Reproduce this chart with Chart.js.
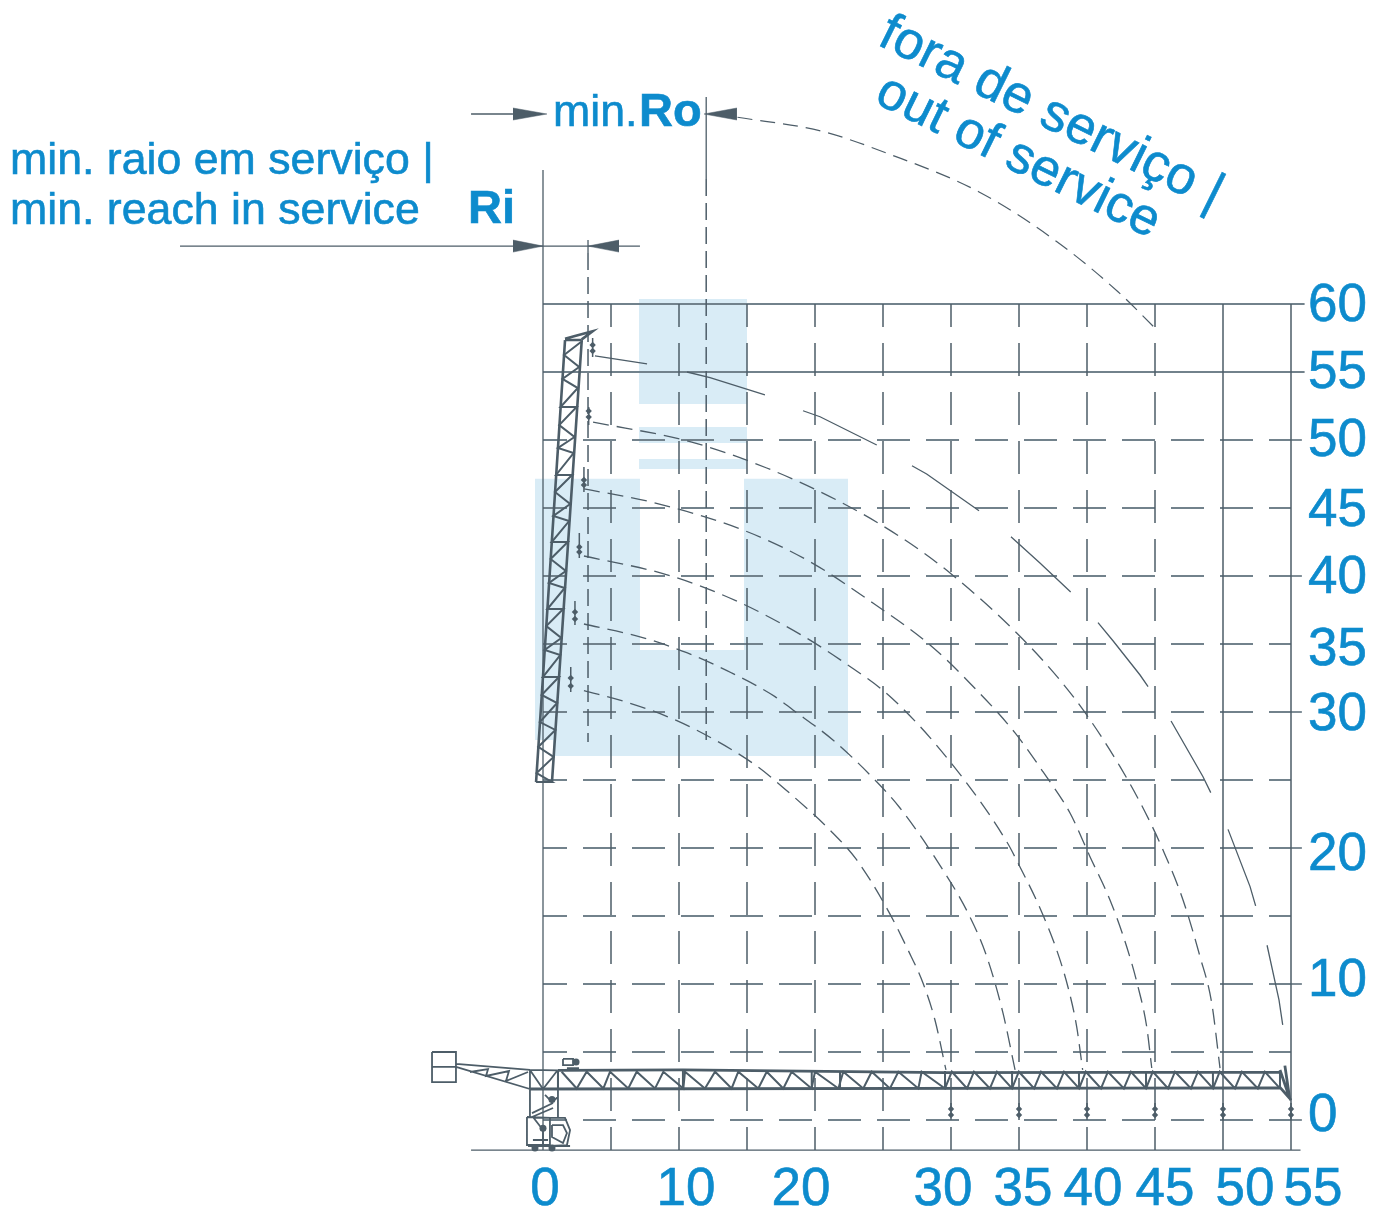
<!DOCTYPE html>
<html>
<head>
<meta charset="utf-8">
<title>Raio em serviço</title>
<script src="https://cdn.jsdelivr.net/npm/chart.js@4"></script>
<style>
  html, body { margin: 0; padding: 0; background: #fff; }
  canvas { display: block; }
</style>
</head>
<body>
<canvas id="chart" width="1390" height="1212"></canvas>
<script>
// tick labels
const xTickValues = [0, 10, 20, 30, 35, 40, 45, 50, 55];
const yTickValues = [0, 10, 20, 30, 35, 40, 45, 50, 55, 60];

// grid
const gridX = [5, 10, 15, 20, 25, 30, 35, 40, 45];
const gridXSolid = [50, 55];
const gridY = [0, 5, 10, 15, 20, 25, 30, 35, 40, 45, 50];
const gridYSolid = [55, 60];
const tickStubY = [0, 10, 20, 30, 40, 50];

// hook paths, one per jib length (30 to 50 m)
const arc30X = [3.01, 6.03, 9.39, 12.65, 15.71, 18.38, 21.10, 23.07, 25.27, 26.84, 27.94, 28.82, 29.63];
const arc30Y = [31.57, 30.76, 29.56, 27.94, 26.03, 23.82, 21.32, 19.12, 15.59, 12.5, 10.07, 7.35, 3.68];
const arc35X = [3.01, 7.26, 10.57, 13.88, 17.06, 18.38, 21.32, 24.41, 26.25, 29.41, 31.25, 32.63, 33.82, 34.71];
const arc35Y = [36.47, 35.49, 34.36, 32.87, 31.13, 30.15, 27.94, 25.0, 22.94, 18.38, 15.22, 12.01, 7.87, 3.68];
const arc40X = [3.01, 9.19, 14.34, 19.12, 22.21, 25.64, 29.93, 34.10, 35.0, 36.54, 37.77, 38.60, 39.24, 39.68];
const arc40Y = [41.47, 40.07, 38.11, 35.59, 33.60, 31.03, 26.35, 20.46, 18.75, 15.59, 12.5, 9.78, 6.86, 3.68];
const arc45X = [3.01, 7.87, 14.71, 19.63, 24.26, 28.46, 31.52, 34.71, 36.76, 38.75, 40.22, 41.69, 42.92, 43.75, 44.39, 44.76];
const arc45Y = [46.40, 45.46, 43.38, 41.05, 38.01, 34.93, 31.99, 28.46, 25.61, 22.57, 19.36, 16.18, 12.74, 9.80, 6.86, 3.82];
const arc50X = [3.68, 10.81, 16.45, 21.84, 26.25, 29.93, 34.83, 38.01, 39.98, 42.43, 44.26, 45.59, 47.06, 48.31, 49.17, 49.78];
const arc50Y = [51.32, 49.88, 47.94, 45.46, 42.89, 40.22, 35.81, 32.35, 29.78, 25.98, 22.67, 19.85, 16.18, 12.01, 8.60, 3.82];
const arcOutX = [14.30, 20.44, 25.44, 32.03, 37.79, 42.28, 44.99];
const arcOutY = [73.73, 72.72, 71.03, 68.26, 64.58, 60.90, 58.24];

// 55 m path is broken into solid pieces
const arc55Pieces = [
  [[3.82, 56.18], [7.65, 55.59]],
  [[10.59, 55.0], [12.28, 54.58], [16.32, 53.31]],
  [[19.12, 52.15], [20.37, 51.71], [24.54, 49.63]],
  [[27.13, 48.11], [28.21, 47.5], [32.06, 44.80]],
  [[34.41, 42.89], [36.54, 40.96], [38.80, 38.82]],
  [[40.81, 36.57], [41.91, 35.24], [43.90, 32.72], [44.49, 31.86]],
  [[46.18, 29.34], [48.53, 25.24], [49.10, 24.07]],
  [[50.37, 21.37], [51.99, 17.16], [52.40, 15.74]],
  [[53.24, 12.85], [54.12, 8.82], [54.39, 6.99]]
];

// hooks on the raised boom
const boomHookX = [3.65, 3.36, 3.01, 2.67, 2.35, 2.04];
const boomHookTop = [57.5, 52.43, 48.01, 43.16, 38.16, 33.31];
const boomHookBottom = [56.10, 51.10, 46.18, 41.32, 36.40, 31.47];
const boomHookMarkA = [56.99, 52.13, 47.06, 42.13, 37.35, 32.5];
const boomHookMarkB = [56.54, 51.69, 46.69, 41.76, 36.84, 31.91];
// hooks on the horizontal jib
const jibHookX = [30, 35, 40, 45, 50, 55];

// raised boom lacing
const boomLacing = [
  [2.79, 57.21], [1.55, 56.25], [2.66, 55.37], [1.43, 54.49], [2.56, 53.82], [1.29, 52.43], [2.47, 52.43],
  [1.19, 51.10], [2.32, 50.22], [1.10, 49.41], [2.25, 49.04], [0.96, 47.43], [2.14, 47.43],
  [0.88, 46.18], [2.0, 45.29], [0.76, 44.41], [1.92, 44.04], [0.64, 42.50], [1.82, 42.50],
  [0.56, 41.25], [1.68, 40.37], [0.44, 39.49], [1.60, 39.12], [0.32, 37.57], [1.49, 37.57],
  [0.24, 36.32], [1.35, 35.44], [0.12, 34.56], [1.27, 34.19], [-0.01, 32.57], [1.17, 32.57],
  [-0.10, 31.25], [1.04, 30.66], [-0.23, 29.26], [0.91, 28.68], [-0.35, 27.43], [0.78, 26.69],
  [-0.47, 25.51], [0.66, 24.85], [-0.51, 24.85]
];
const boomChords = [
  [[-0.51, 24.85], [1.62, 57.35]],
  [[0.66, 24.85], [2.85, 57.35]],
  [[1.62, 57.35], [2.85, 57.35]],
  [[1.62, 57.45], [2.35, 57.65], [3.65, 58.0], [2.85, 57.4]]
];

// horizontal jib lacing, top and bottom nodes
const jibTopX = [1.37, 3.21, 4.93, 6.89, 8.85, 10.44, 12.65, 14.36, 16.45, 18.28, 20.0, 22.08, 24.17, 26.13, 27.84,
  30.06, 31.69, 33.38, 34.99, 36.62, 38.31, 39.91, 41.54, 43.23, 44.84, 46.47, 48.16, 49.76, 51.39, 53.08];
const jibBottomX = [2.48, 4.44, 6.27, 8.24, 10.32, 11.91, 13.87, 15.83, 17.67, 19.75, 21.72, 23.55, 25.51, 27.6, 29.56,
  31.18, 32.86, 34.49, 36.11, 37.79, 39.42, 41.03, 42.71, 44.34, 45.96, 47.64, 49.27, 50.88, 52.56, 54.19];
const jibPostX = [1.10, 10.29, 19.76, 21.84, 29.56, 34.49, 39.41, 44.34, 49.26, 54.19];
const jibChords = [
  [[1.10, 3.65], [10.29, 3.68], [29.56, 3.49], [54.19, 3.52]],
  [[-0.96, 2.28], [54.19, 2.36]],
  [[54.19, 3.68], [54.9, 1.6], [55, 1.45]],
  [[54.19, 2.4], [54.9, 1.6]],
  [[54.55, 4.0], [54.9, 1.6]]
];

// counter jib, tower, cab and hoist
const craneParts = [
  [[-8.16, 5.0], [-6.40, 5.0], [-6.40, 2.79], [-8.16, 2.79], [-8.16, 5.0]],
  [[-8.16, 3.90], [-6.40, 3.90]],
  [[-6.40, 4.12], [-0.96, 3.68], [1.10, 3.65]],
  [[-6.40, 3.90], [-0.96, 2.28]],
  [[-5.37, 3.53], [-4.04, 3.75], [-4.19, 3.24], [-2.5, 3.6], [-2.72, 2.87], [-1.10, 3.53]],
  [[-0.96, 3.68], [0, 2.28], [1.03, 3.6]],
  [[-0.96, 3.68], [-0.96, 0.22]],
  [[1.10, 3.6], [1.10, 0.22]],
  [[-1.18, 0.22], [-1.18, -1.84], [0.51, -1.84], [0.51, 0.15], [-1.18, 0.22]],
  [[0.51, 0.15], [1.62, 0.15], [1.99, -0.74], [1.76, -1.84], [0.51, -1.91]],
  [[0.66, -0.37], [1.47, -0.37], [1.76, -0.96], [1.47, -1.69], [0.66, -1.25], [0.66, -0.37]],
  [[-1.10, -1.91], [1.99, -1.91]],
  [[-0.74, 0.22], [0, -0.74]],
  [[-0.74, -1.47], [0.37, -1.47]],
  [[0, -0.51], [0, -1.99]],
  [[-0.81, 0.51], [0.74, 1.25]],
  [[0.15, 1.84], [0.66, 1.32], [1.10, 1.69]],
  [[0.74, 0.88], [-0.81, 0.22]],
  [[1.47, 4.49], [2.21, 4.49], [2.21, 4.04], [1.47, 4.04], [1.47, 4.49]],
  [[1.76, 3.82], [2.65, 3.82]]
];
const craneMarks = [[-0.59, -2.06], [0.66, -2.06], [2.43, 4.26], [0, -0.6], [0.66, 1.5]];

// dimension lines
const leaderLines = [
  [[-5.29, 73.97], [-2.21, 73.97]],
  [[-26.69, 64.26], [7.13, 64.26]],
  [[0, 69.85], [0, -2.21]],
  [[12, 75.22], [12, 69.19]],
  [[3.31, 64.71], [3.31, 63.75]],
  [[-5.29, -2.21], [55.7, -2.21]]
];
const dashedLeaders = [
  [[12, 69.19], [12, 27.94]],
  [[3.31, 63.75], [3.31, 27.79]]
];
// tip, base, centre height
const arrowTipX = [0.29, 11.84, 0, 3.31];
const arrowBaseX = [-2.21, 14.26, -2.21, 5.59];
const arrowY = [73.97, 73.97, 64.26, 64.26];

// logo behind the plot: left, right, bottom, top
const logoLeft = [7.06, 7.06, 7.06, -0.59, 14.78, 0.74];
const logoRight = [15.0, 15.0, 15.0, 7.13, 22.43, 22.43];
const logoBottom = [52.65, 49.78, 47.87, 27.94, 26.77, 26.77];
const logoTop = [60.37, 50.96, 48.60, 47.15, 47.15, 34.56];

const INK = '#4d5d68';
const GRID_INK = '#72828c';
const BLUE = '#0d8bcd';
const LOGO_BLUE = '#d9ecf6';
const UNIT = 13.6; // px per metre in the sheet

const xy = (p) => ({ x: p[0], y: p[1] });
const zip = (xs, ys) => xs.map((x, i) => ({ x, y: ys[i] }));

function joinPieces(pieces) {
  const out = [];
  pieces.forEach((piece) => {
    piece.forEach((p) => out.push(xy(p)));
    out.push({ x: NaN, y: NaN });
  });
  return out;
}

function line(data, extra) {
  return Object.assign({
    data,
    showLine: true,
    borderColor: INK,
    borderWidth: 1.2,
    pointRadius: 0,
    fill: false,
    spanGaps: false,
    clip: false
  }, extra);
}

// datasets are painted last to first, so the crane comes first here
const datasets = [];

// crane
datasets.push(line(boomLacing.map(xy), { borderWidth: 2 }));
datasets.push(line(joinPieces(boomChords), { borderWidth: 2.6 }));
const jibLacing = [];
jibTopX.forEach((x, i) => {
  jibLacing.push({ x, y: 3.55 });
  jibLacing.push({ x: jibBottomX[i], y: 2.32 });
});
datasets.push(line(jibLacing, { borderWidth: 2 }));
datasets.push(line(joinPieces(jibPostX.map((x) => [[x, 3.6], [x, 2.32]])), { borderWidth: 2 }));
datasets.push(line(joinPieces(jibChords), { borderWidth: 2.8 }));
datasets.push(line(joinPieces(craneParts), { borderWidth: 1.8 }));
datasets.push(line(craneMarks.map(xy), { showLine: false, pointRadius: 3.5, pointBackgroundColor: INK, pointBorderWidth: 0 }));

// hooks
const hookStems = boomHookX.map((x, i) => [[x, boomHookTop[i]], [x, boomHookBottom[i]]])
  .concat(jibHookX.map((x) => [[x, 1.25], [x, 0]]));
datasets.push(line(joinPieces(hookStems), { borderWidth: 1.5 }));
const hookMarks = zip(boomHookX, boomHookMarkA).concat(zip(boomHookX, boomHookMarkB))
  .concat(jibHookX.map((x) => ({ x, y: 0.81 }))).concat(jibHookX.map((x) => ({ x, y: 0.37 })));
datasets.push(line(hookMarks, { showLine: false, pointRadius: 3.2, pointStyle: 'rectRot', pointBackgroundColor: INK, pointBorderWidth: 0 }));

// arrow heads, each is two filled halves meeting on the centre line
arrowTipX.forEach((tip, i) => {
  const half = 6 / UNIT;
  const y = arrowY[i];
  [half, -half].forEach((h) => {
    datasets.push(line([{ x: arrowBaseX[i], y: y + h }, { x: tip, y }], {
      borderWidth: 0.5,
      fill: { value: y },
      backgroundColor: INK
    }));
  });
});

// dimension lines
datasets.push(line(joinPieces(leaderLines), { borderWidth: 1.3 }));
datasets.push(line(joinPieces(dashedLeaders), { borderWidth: 1.5, borderDash: [17, 7] }));

// hook paths
[[arc30X, arc30Y], [arc35X, arc35Y], [arc40X, arc40Y], [arc45X, arc45Y], [arc50X, arc50Y]].forEach((arc) => {
  datasets.push(line(zip(arc[0], arc[1]), { borderWidth: 1.3, borderDash: [16, 8], cubicInterpolationMode: 'monotone' }));
});
datasets.push(line(zip(arcOutX, arcOutY), { borderWidth: 1.2, borderDash: [15, 8], cubicInterpolationMode: 'monotone' }));
datasets.push(line(joinPieces(arc55Pieces), { borderWidth: 1.3 }));

// grid
gridX.forEach((x) => {
  datasets.push(line([{ x, y: 60 }, { x, y: -2.21 }], { borderWidth: 1.5, borderDash: [33, 16], borderDashOffset: 10 }));
});
gridXSolid.forEach((x) => {
  datasets.push(line([{ x, y: 60 }, { x, y: -2.21 }], { borderWidth: 1.5 }));
});
gridY.forEach((y) => {
  datasets.push(line([{ x: 0, y }, { x: 55, y }], { borderColor: GRID_INK, borderWidth: 1.8, borderDash: [33, 16], borderDashOffset: 9 }));
});
gridYSolid.forEach((y) => {
  datasets.push(line([{ x: 0, y }, { x: 56, y }], { borderColor: GRID_INK, borderWidth: 1.8 }));
});
tickStubY.forEach((y) => {
  datasets.push(line([{ x: 55, y }, { x: 55.8, y }], { borderColor: GRID_INK, borderWidth: 1.8 }));
});

// logo
logoLeft.forEach((x0, i) => {
  datasets.push(line([{ x: x0, y: logoTop[i] }, { x: logoRight[i], y: logoTop[i] }], {
    borderWidth: 0,
    fill: { value: logoBottom[i] },
    backgroundColor: LOGO_BLUE
  }));
});

// nudges of the tick labels against their ticks, as on the original sheet
const xLabelNudge = { 0: 2, 10: 7, 20: -14, 30: -8, 35: 4, 40: 6, 45: 10, 50: 22, 55: 22 };
const yLabelNudge = { 0: -4, 10: -3, 20: 7, 30: 3, 35: 6, 40: 2, 45: 3, 50: 1, 55: 1, 60: 2 };

const sheetText = {
  id: 'sheetText',
  afterDraw(chart) {
    const ctx = chart.ctx;
    const sx = chart.scales.x;
    const sy = chart.scales.y;
    const put = (text, x, y) => {
      ctx.fillText(text, x, y);
      ctx.strokeText(text, x, y);
    };
    ctx.save();
    ctx.fillStyle = BLUE;
    ctx.strokeStyle = BLUE;
    ctx.lineWidth = 0.6;
    ctx.textBaseline = 'alphabetic';

    ctx.font = '53px "Liberation Sans"';
    ctx.textAlign = 'center';
    xTickValues.forEach((v) => {
      put(String(v), sx.getPixelForValue(v) + xLabelNudge[v], 1205);
    });
    ctx.textBaseline = 'middle';
    ctx.textAlign = 'left';
    yTickValues.forEach((v) => {
      put(String(v), 1308, sy.getPixelForValue(v) + yLabelNudge[v]);
    });
    ctx.textBaseline = 'alphabetic';

    ctx.font = '44.7px "Liberation Sans"';
    put('min. raio em serviço |', 10, 174);
    put('min. reach in service', 10, 224);
    put('min.', 553, 126);

    ctx.font = 'bold 47px "Liberation Sans"';
    put('Ro', 639, 126);
    put('Ri', 468, 223);

    ctx.font = '53px "Liberation Sans"';
    ctx.save();
    ctx.translate(876, 44);
    ctx.rotate(26.3 * Math.PI / 180);
    put('fora de serviço |', 0, 0);
    ctx.restore();
    ctx.font = '52px "Liberation Sans"';
    ctx.save();
    ctx.translate(873, 102);
    ctx.rotate(26.2 * Math.PI / 180);
    put('out of service', 0, 0);
    ctx.restore();
    ctx.restore();
  }
};

new Chart(document.getElementById('chart').getContext('2d'), {
  type: 'scatter',
  data: { datasets },
  plugins: [sheetText],
  options: {
    responsive: false,
    animation: false,
    events: [],
    layout: { padding: 0, autoPadding: false },
    plugins: {
      legend: { display: false },
      tooltip: { enabled: false },
      filler: { propagate: false }
    },
    scales: {
      x: { type: 'linear', display: false, min: -543 / UNIT, max: (1390 - 543) / UNIT },
      y: { type: 'linear', display: false, min: (1120 - 1212) / UNIT, max: 1120 / UNIT }
    }
  }
});
</script>
</body>
</html>
